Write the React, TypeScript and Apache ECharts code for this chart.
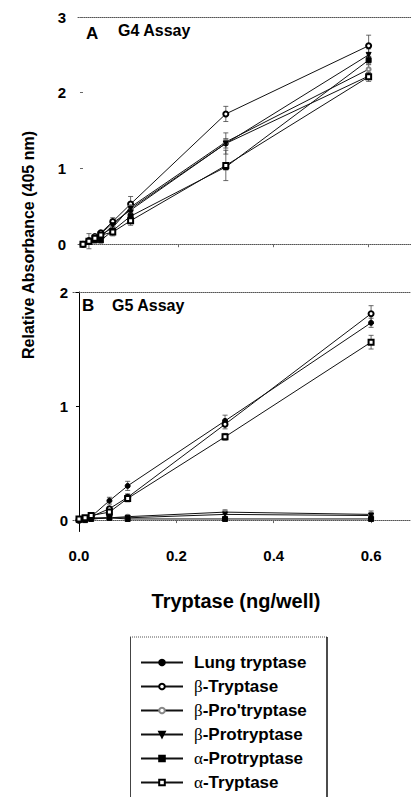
import React, { useEffect, useRef } from 'react';
import * as echarts from 'echarts';

// ---- data ----
const seriesNames = ['Lung tryptase', 'β-Tryptase', "β-Pro'tryptase", 'β-Protryptase', 'α-Protryptase', 'α-Tryptase'];

// Panel A: G4 Assay
const xA = [0, 0.0125, 0.025, 0.0375, 0.0625, 0.1, 0.3, 0.6];
const lungA = [0, 0.04, 0.08, 0.14, 0.28, 0.45, 1.33, 2.22];
const bTryA = [0, 0.05, 0.10, 0.15, 0.30, 0.53, 1.72, 2.62];
const bProPA = [0, 0.04, 0.09, 0.12, 0.22, 0.49, 1.35, 2.31];
const bProA = [0, 0.03, 0.06, 0.10, 0.25, 0.47, 1.33, 2.50];
const aProA = [0, 0.03, 0.05, 0.05, 0.18, 0.37, 1.02, 2.43];
const aTryA = [0, 0.04, 0.08, 0.12, 0.16, 0.31, 1.04, 2.21];

const lungAErr = [0, 0, 0, 0, 0, 0.05, 0.06, 0.04];
const bTryAErr = [0, 0, 0, 0, 0.05, 0.1, 0.1, 0.14];
const bProPAErr = [0, 0, 0, 0, 0, 0, 0.04, 0.06];
const bProAErr = [0, 0, 0, 0, 0, 0.05, 0.14, 0.08];
const aProAErr = [0, 0, 0, 0, 0, 0, 0.04, 0.05];
const aTryAErr = [0, 0.1, 0, 0, 0.05, 0.06, 0.2, 0.06];

// Panel B: G5 Assay
const xB = [0, 0.0125, 0.025, 0.0625, 0.1, 0.3, 0.6];
const lungB = [0, 0.01, 0.03, 0.17, 0.30, 0.87, 1.73];
const bTryB = [0, 0.01, 0.03, 0.10, 0.20, 0.84, 1.81];
const bProPB = [0, 0.01, 0.02, 0.02, 0.03, 0.07, 0.05];
const bProB = [0, 0.01, 0.01, 0.02, 0.02, 0.05, 0.04];
const aProB = [0, 0.0, 0.01, 0.02, 0.01, 0.01, 0.01];
const aTryB = [0.01, 0.02, 0.04, 0.07, 0.19, 0.73, 1.56];

const lungBErr = [0, 0, 0, 0.03, 0.04, 0.05, 0.04];
const bTryBErr = [0, 0, 0, 0, 0.03, 0.04, 0.07];
const bProPBErr = [0, 0, 0, 0, 0, 0.02, 0.03];
const bProBErr = [0, 0, 0, 0, 0, 0, 0.02];
const aProBErr = [0, 0, 0, 0, 0, 0, 0];
const aTryBErr = [0, 0, 0, 0, 0.03, 0.03, 0.06];

const yTicksA = [0, 1, 2, 3];
const yTicksB = [0, 1, 2];
const xTicks = [0, 0.2, 0.4, 0.6];

// ---- styling ----
const FONT = '"Liberation Sans", Arial, Helvetica, sans-serif';
const symbolStyles = [
  { symbol: 'circle', color: '#000', size: 5 },
  { symbol: 'emptyCircle', color: '#000', size: 5 },
  { symbol: 'emptyCircle', color: '#888', size: 4 },
  { symbol: 'path://M0,0L10,0L5,9Z', color: '#000', size: 5 },
  { symbol: 'rect', color: '#000', size: 5 },
  { symbol: 'emptyRect', color: '#000', size: 5 },
];

const valuesA = [lungA, bTryA, bProPA, bProA, aProA, aTryA];
const errsA = [lungAErr, bTryAErr, bProPAErr, bProAErr, aProAErr, aTryAErr];
const valuesB = [lungB, bTryB, bProPB, bProB, aProB, aTryB];
const errsB = [lungBErr, bTryBErr, bProPBErr, bProBErr, aProBErr, aTryBErr];

function lineSeries(xs: number[], vals: number[][], xi: number, yi: number) {
  return vals.map((v, k) => ({
    type: 'line',
    name: seriesNames[k],
    xAxisIndex: xi,
    yAxisIndex: yi,
    data: xs.map((x, i) => [x, v[i]]),
    symbol: symbolStyles[k].symbol,
    symbolSize: symbolStyles[k].size,
    lineStyle: { color: '#111', width: 1 },
    itemStyle: { color: symbolStyles[k].color, borderColor: symbolStyles[k].color, borderWidth: 1 },
    z: 3,
  }));
}

function errSeries(xs: number[], vals: number[][], errs: number[][], xi: number, yi: number) {
  const data: number[][] = [];
  vals.forEach((v, k) => {
    xs.forEach((x, i) => {
      const e = errs[k][i];
      if (e > 0) data.push([x, v[i] - e, v[i] + e]);
    });
  });
  return {
    type: 'custom',
    xAxisIndex: xi,
    yAxisIndex: yi,
    z: 2,
    silent: true,
    encode: { x: 0, y: [1, 2] },
    data,
    renderItem: (params: any, api: any) => {
      const x = api.value(0);
      const lo = api.coord([x, api.value(1)]);
      const hi = api.coord([x, api.value(2)]);
      const c = 2.5;
      const st = { stroke: '#444', lineWidth: 0.8 };
      return {
        type: 'group',
        children: [
          { type: 'line', shape: { x1: lo[0], y1: lo[1], x2: hi[0], y2: hi[1] }, style: st },
          { type: 'line', shape: { x1: hi[0] - c, y1: hi[1], x2: hi[0] + c, y2: hi[1] }, style: st },
          { type: 'line', shape: { x1: lo[0] - c, y1: lo[1], x2: lo[0] + c, y2: lo[1] }, style: st },
        ],
      };
    },
  };
}

const dotted = { show: true, lineStyle: { type: 'dotted', color: '#555', width: 1 } };

function xAxes(gridIndex: number, min: number, max: number, showLabels: boolean) {
  return [
    {
      type: 'value', gridIndex, min, max, position: 'bottom',
      axisLine: dotted,
      axisTick: { show: true, customValues: xTicks, length: 3, lineStyle: { color: '#666' } },
      axisLabel: {
        show: showLabels, customValues: xTicks, margin: 16,
        formatter: (v: number) => v.toFixed(1),
        fontFamily: FONT, fontWeight: 'bold', fontSize: 15, color: '#000',
      },
      splitLine: { show: false },
    },
    {
      type: 'value', gridIndex, min, max, position: 'top',
      axisLine: dotted, axisTick: { show: false }, axisLabel: { show: false }, splitLine: { show: false },
    },
  ];
}

function greek(name: string) {
  return name.replace(/^([αβ])/, '{g|$1}');
}

const option: any = {
  animation: false,
  backgroundColor: '#fff',
  grid: [
    { left: 78, top: 17, width: 333, height: 231 },
    { left: 73, top: 292, width: 338, height: 239.5 },
  ],
  xAxis: [
    ...xAxes(0, -0.0105, 0.689, false),
    ...xAxes(1, -0.0123, 0.682, true),
  ],
  yAxis: [
    {
      type: 'value', gridIndex: 0, min: -0.05, max: 3,
      axisLine: { show: false },
      axisTick: { show: true, customValues: yTicksA, length: 3, lineStyle: { color: '#666' } },
      axisLabel: { customValues: yTicksA, margin: 12, fontFamily: FONT, fontWeight: 'bold', fontSize: 15, color: '#000' },
      splitLine: { show: false },
    },
    {
      type: 'value', gridIndex: 1, min: -0.1, max: 2,
      axisLine: { show: true, lineStyle: { color: '#000', width: 1 } },
      axisTick: { show: true, customValues: yTicksB, length: 3, lineStyle: { color: '#000' } },
      axisLabel: { customValues: yTicksB, margin: 5, fontFamily: FONT, fontWeight: 'bold', fontSize: 15, color: '#000' },
      splitLine: { show: false },
    },
  ],
  legend: {
    data: seriesNames,
    orient: 'vertical',
    left: 140,
    top: 654,
    padding: 0,
    itemWidth: 42,
    itemHeight: 7,
    itemGap: 7,
    selectedMode: false,
    formatter: (name: string) => greek(name),
    textStyle: {
      fontFamily: FONT, fontWeight: 'bold', fontSize: 17, color: '#000', lineHeight: 17,
      padding: [0, 0, 0, 6],
      rich: { g: { fontFamily: '"Liberation Serif", "DejaVu Serif", serif', fontWeight: 'normal', fontSize: 17, color: '#000' } },
    },
  },
  graphic: [
    { type: 'text', x: 86, y: 33, style: { text: 'A', font: `bold 17px ${FONT}`, fill: '#000', textAlign: 'left', textVerticalAlign: 'middle' } },
    { type: 'text', x: 118, y: 30, style: { text: 'G4 Assay', font: `bold 16px ${FONT}`, fill: '#000', textAlign: 'left', textVerticalAlign: 'middle' } },
    { type: 'text', x: 82, y: 305, style: { text: 'B', font: `bold 17px ${FONT}`, fill: '#000', textAlign: 'left', textVerticalAlign: 'middle' } },
    { type: 'text', x: 112, y: 305, style: { text: 'G5 Assay', font: `bold 16px ${FONT}`, fill: '#000', textAlign: 'left', textVerticalAlign: 'middle' } },
    { type: 'text', x: 236, y: 601, style: { text: 'Tryptase (ng/well)', font: `bold 20px ${FONT}`, fill: '#000', textAlign: 'center', textVerticalAlign: 'middle' } },
    { type: 'text', x: 28, y: 245, rotation: Math.PI / 2, style: { text: 'Relative Absorbance (405 nm)', font: `bold 16px ${FONT}`, fill: '#000', textAlign: 'center', textVerticalAlign: 'middle' } },
    { type: 'line', shape: { x1: 130, y1: 637, x2: 327, y2: 637 }, style: { stroke: '#555', lineWidth: 1, lineDash: [1, 1] } },
    { type: 'line', shape: { x1: 130.5, y1: 637, x2: 130.5, y2: 797 }, style: { stroke: '#444', lineWidth: 1 } },
    { type: 'line', shape: { x1: 327, y1: 637, x2: 327, y2: 797 }, style: { stroke: '#111', lineWidth: 1.5 } },
  ],
  series: [
    errSeries(xA, valuesA, errsA, 0, 0),
    ...lineSeries(xA, valuesA, 0, 0),
    errSeries(xB, valuesB, errsB, 2, 1),
    ...lineSeries(xB, valuesB, 2, 1),
  ],
};

export default function App() {
  const ref = useRef<HTMLDivElement>(null);
  useEffect(() => {
    const chart = echarts.init(ref.current as HTMLDivElement, null, { renderer: 'svg' });
    chart.setOption(option);
    return () => chart.dispose();
  }, []);
  return (
    <div
      ref={ref}
      style={{ position: 'fixed', left: 0, top: 0, width: 411, height: 797, background: '#fff' }}
    />
  );
}
